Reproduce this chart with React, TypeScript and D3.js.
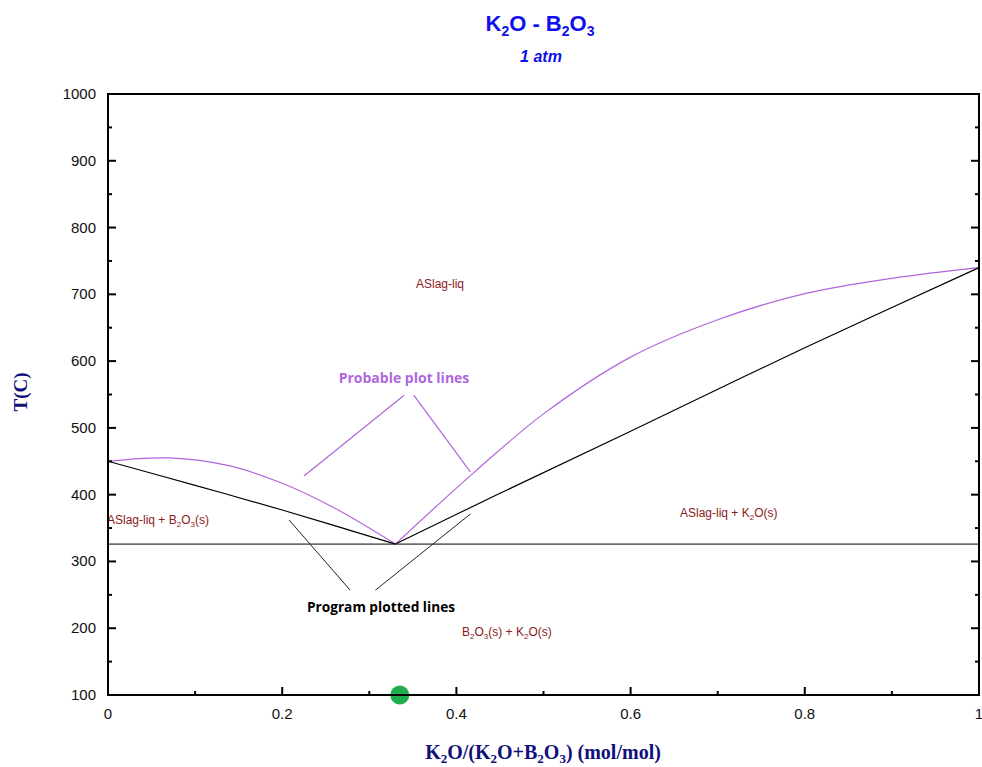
import React from "react";
import * as d3 from "d3";

const W = 982, H = 767;

const xTicksMajor = [0, 0.2, 0.4, 0.6, 0.8, 1];
const xTickLabels = ["0", "0.2", "0.4", "0.6", "0.8", "1"];
const yTicksMajor = [100, 200, 300, 400, 500, 600, 700, 800, 900, 1000];

// Program plotted (black) liquidus
const liqLeftX = [0, 0.1, 0.2, 0.33];
const liqLeftT = [450, 414, 377, 326];
const liqRightX = [0.33, 0.45, 0.6, 0.8, 1.0];
const liqRightT = [326, 402, 495, 620, 740];
const eutecticT = 326;

// Probable (purple) liquidus
const probLeftX = [0, 0.07, 0.14, 0.2, 0.26, 0.33];
const probLeftT = [450, 455, 443, 417, 380, 326];
const probRightX = [0.33, 0.42, 0.5, 0.6, 0.7, 0.8, 0.9, 1.0];
const probRightT = [326, 433, 521, 606, 662, 701, 724, 740];

// Annotation pointer segments [x1, T1, x2, T2]
const purplePointers = [
  [0.34, 549, 0.225, 428],
  [0.351, 549, 0.416, 434],
];
const blackPointers = [
  [0.278, 257, 0.208, 362],
  [0.307, 257, 0.416, 371],
];

const markerX = 0.335;
const markerT = 100;

export default function App() {
  const x0 = 108, x1 = 979;
  const xs = d3.scaleLinear().domain([0, 1]).range([x0, x1]);
  const y = d3.scaleLinear().domain([100, 1000]).range([695, 94]);
  const y0 = y(100), y1 = y(1000);

  const mk = (a: number[], b: number[]) =>
    d3
      .line<[number, number]>()
      .x((d) => xs(d[0]))
      .y((d) => y(d[1]))
      .curve(d3.curveCatmullRom.alpha(0.5))(a.map((v, i) => [v, b[i]] as [number, number])) as string;

  const yMinor = d3.range(150, 1000, 100);
  const xMinor = d3.range(0.1, 1, 0.2);

  const lblColor = "#8b1a1a";
  const purple = "#b066dc";
  const sans = "Arial, 'Liberation Sans', sans-serif";
  const serif = "'Liberation Serif', 'Times New Roman', serif";

  return (
    <svg width={W} height={H} style={{ display: "block", position: "absolute", left: 0, top: 0 }}>
      <rect width={W} height={H} fill="white" />
      {/* title */}
      <text x={540} y={31} textAnchor="middle" fontFamily={sans} fontWeight="bold" fontSize={22} fill="#1010ee">
        K<tspan fontSize={14} dy={5}>2</tspan><tspan dy={-5}>O - B</tspan><tspan fontSize={14} dy={5}>2</tspan><tspan dy={-5}>O</tspan><tspan fontSize={14} dy={5}>3</tspan>
      </text>
      <text x={541} y={62} textAnchor="middle" fontFamily={sans} fontWeight="bold" fontStyle="italic" fontSize={16} fill="#1010ee">1 atm</text>

      {/* eutectic line */}
      <line x1={x0} x2={x1} y1={y(eutecticT)} y2={y(eutecticT)} stroke="black" strokeWidth={1} />

      {/* curves */}
      <path d={mk(probLeftX, probLeftT)} fill="none" stroke={purple} strokeWidth={1.2} />
      <path d={mk(probRightX, probRightT)} fill="none" stroke={purple} strokeWidth={1.2} />
      <path d={mk(liqLeftX, liqLeftT)} fill="none" stroke="black" strokeWidth={1.2} />
      <path d={mk(liqRightX, liqRightT)} fill="none" stroke="black" strokeWidth={1.2} />

      {/* pointers */}
      {purplePointers.map((p, i) => (
        <line key={"pp" + i} x1={xs(p[0])} y1={y(p[1])} x2={xs(p[2])} y2={y(p[3])} stroke={purple} strokeWidth={1.2} />
      ))}
      {blackPointers.map((p, i) => (
        <line key={"bp" + i} x1={xs(p[0])} y1={y(p[1])} x2={xs(p[2])} y2={y(p[3])} stroke="#222" strokeWidth={1} />
      ))}

      {/* labels */}
      <text x={416} y={y(716) + 4} fontFamily={sans} fontSize={12} fill={lblColor}>ASlag-liq</text>
      <text x={x0 - 1} y={y(362) + 4} fontFamily={sans} fontSize={12} fill={lblColor}>
        ASlag-liq + B<tspan fontSize={8} dy={3}>2</tspan><tspan dy={-3}>O</tspan><tspan fontSize={8} dy={3}>3</tspan><tspan dy={-3}>(s)</tspan>
      </text>
      <text x={680} y={y(373) + 4} fontFamily={sans} fontSize={12} fill={lblColor}>
        ASlag-liq + K<tspan fontSize={8} dy={3}>2</tspan><tspan dy={-3}>O(s)</tspan>
      </text>
      <text x={462} y={y(194) + 4} fontFamily={sans} fontSize={12} fill={lblColor}>
        B<tspan fontSize={8} dy={3}>2</tspan><tspan dy={-3}>O</tspan><tspan fontSize={8} dy={3}>3</tspan><tspan dy={-3}>(s) + K</tspan><tspan fontSize={8} dy={3}>2</tspan><tspan dy={-3}>O(s)</tspan>
      </text>
      <text x={381} y={612} textAnchor="middle" fontFamily="'Open Sans', Lato, sans-serif" fontWeight="bold" fontSize={13.7} fill="black">Program plotted lines</text>
      <text x={404} y={383} textAnchor="middle" fontFamily="'Open Sans', Lato, sans-serif" fontWeight="bold" fontSize={14} fill={purple}>Probable plot lines</text>

      {/* marker */}
      <circle cx={xs(markerX)} cy={y(markerT)} r={9.5} fill="#1fae4a" />

      {/* frame */}
      <rect x={x0} y={y1} width={x1 - x0} height={y0 - y1} fill="none" stroke="black" strokeWidth={2} />

      {/* y ticks */}
      {yTicksMajor.map((t) => (
        <g key={"y" + t}>
          <line x1={x0} x2={x0 + 8} y1={y(t)} y2={y(t)} stroke="black" strokeWidth={2} />
          <line x1={x1} x2={x1 - 8} y1={y(t)} y2={y(t)} stroke="black" strokeWidth={2} />
          <text x={96} y={y(t) + 5} textAnchor="end" fontFamily={sans} fontSize={15} fill="#111">{t}</text>
        </g>
      ))}
      {yMinor.map((t) => (
        <g key={"ym" + t}>
          <line x1={x0} x2={x0 + 4} y1={y(t)} y2={y(t)} stroke="black" strokeWidth={2} />
          <line x1={x1} x2={x1 - 4} y1={y(t)} y2={y(t)} stroke="black" strokeWidth={2} />
        </g>
      ))}
      {/* x ticks */}
      {xTicksMajor.map((t, i) => (
        <g key={"x" + t}>
          <line x1={xs(t)} x2={xs(t)} y1={y0} y2={y0 - 8} stroke="black" strokeWidth={2} />
          <text x={xs(t)} y={y0 + 24} textAnchor="middle" fontFamily={sans} fontSize={15} fill="#111">{xTickLabels[i]}</text>
        </g>
      ))}
      {xMinor.map((t) => (
        <line key={"xm" + t} x1={xs(t)} x2={xs(t)} y1={y0} y2={y0 - 4} stroke="black" strokeWidth={2} />
      ))}

      {/* axis titles */}
      <text transform={`translate(27,${392}) rotate(-90)`} textAnchor="middle" fontFamily={serif} fontWeight="bold" fontSize={19} fill="#10107a">T(C)</text>
      <text x={543} y={759} textAnchor="middle" fontFamily={serif} fontWeight="bold" fontSize={20} fill="#10107a">
        K<tspan fontSize={13} dy={4}>2</tspan><tspan dy={-4}>O/(K</tspan><tspan fontSize={13} dy={4}>2</tspan><tspan dy={-4}>O+B</tspan><tspan fontSize={13} dy={4}>2</tspan><tspan dy={-4}>O</tspan><tspan fontSize={13} dy={4}>3</tspan><tspan dy={-4}>) (mol/mol)</tspan>
      </text>
    </svg>
  );
}
